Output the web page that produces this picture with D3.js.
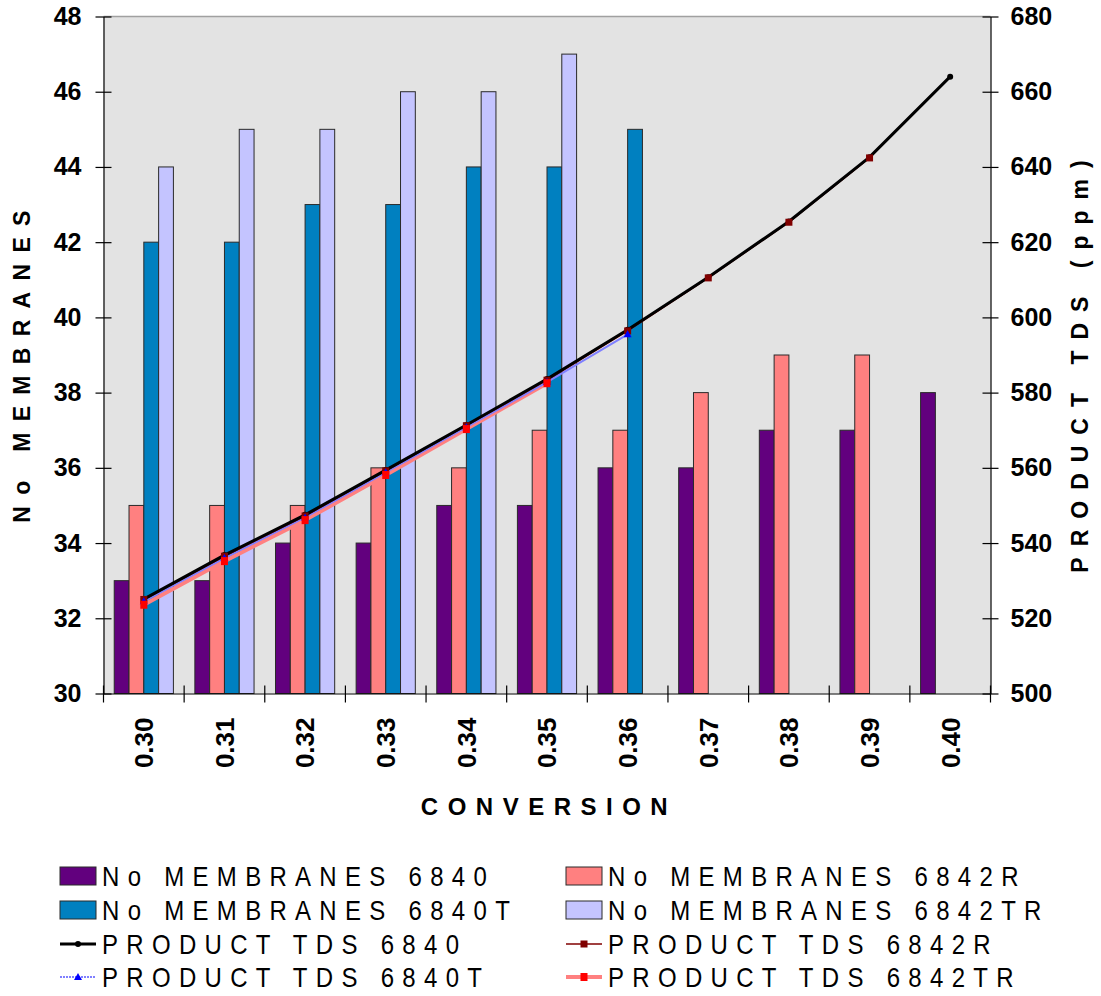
<!DOCTYPE html>
<html>
<head>
<meta charset="utf-8">
<script src="https://cdn.jsdelivr.net/npm/d3@7/dist/d3.min.js"></script>
<style>
  html, body { margin: 0; padding: 0; background: #ffffff; }
  svg { display: block; }
  text { font-family: "Liberation Sans", Arial, Helvetica, sans-serif; fill: #000; }
</style>
</head>
<body>
<svg id="chart" width="1101" height="996"></svg>
<script>
// Conversion categories along the x axis
const categories = ["0.30", "0.31", "0.32", "0.33", "0.34", "0.35", "0.36", "0.37", "0.38", "0.39", "0.40"];

// Number of membranes (left axis)
const membranes6840   = [33, 33, 34, 34, 35, 35, 36, 36, 37, 37, 38];
const membranes6842R  = [35, 35, 35, 36, 36, 37, 37, 38, 39, 39, null];
const membranes6840T  = [42, 42, 43, 43, 44, 44, 45, null, null, null, null];
const membranes6842TR = [44, 45, 45, 46, 46, 47, null, null, null, null, null];

// Product TDS in ppm (right axis)
const tds6840   = [525.1, 536.8, 547.5, 559.4, 571.4, 583.6, 596.7, 610.7, 625.5, 642.6, 664.0];
const tds6842R  = [525.0, 536.5, 547.2, 559.2, 571.2, 583.3, 596.4, 610.5, 625.3, 642.4, null];
const tds6840T  = [524.5, 536.0, 546.8, 558.8, 570.8, 582.8, 595.5, null, null, null, null];
const tds6842TR = [523.6, 535.2, 546.1, 558.1, 570.3, 582.5, null, null, null, null, null];

// Axis ticks
const leftTicks  = [30, 32, 34, 36, 38, 40, 42, 44, 46, 48];
const rightTicks = [500, 520, 540, 560, 580, 600, 620, 640, 660, 680];

const barSeries = [
  { name: "No MEMBRANES 6840",   values: membranes6840,   color: "#62007e" },
  { name: "No MEMBRANES 6842R",  values: membranes6842R,  color: "#ff8080" },
  { name: "No MEMBRANES 6840T",  values: membranes6840T,  color: "#0080c0" },
  { name: "No MEMBRANES 6842TR", values: membranes6842TR, color: "#c4c4ff" }
];

const lineSeries = [
  { name: "PRODUCT TDS 6840",   values: tds6840,   color: "#000000", width: 3,   marker: "circle",   mcolor: "#000000" },
  { name: "PRODUCT TDS 6842R",  values: tds6842R,  color: "#800000", width: 1.5, marker: "square",   mcolor: "#800000" },
  { name: "PRODUCT TDS 6840T",  values: tds6840T,  color: "#8080ff", width: 2,   marker: "triangle", mcolor: "#0000ff" },
  { name: "PRODUCT TDS 6842TR", values: tds6842TR, color: "#ff8080", width: 4,   marker: "rect",     mcolor: "#ff0000" }
];

const svg = d3.select("#chart");

const plot = { left: 103.5, right: 990.5, top: 16.5, bottom: 693.5 };

const x = d3.scaleBand().domain(categories).range([plot.left, plot.right]).paddingInner(0).paddingOuter(0);
const bw = x.bandwidth();
const groupW = bw * 4 / 5.45;
const xs = d3.scaleBand().domain(barSeries.map(s => s.name))
  .range([(bw - groupW) / 2, (bw + groupW) / 2]);

const yL = d3.scaleLinear().domain([30, 48]).range([plot.bottom, plot.top]);
const yR = d3.scaleLinear().domain([500, 680]).range([plot.bottom, plot.top]);

// Plot background
svg.append("rect")
  .attr("x", plot.left).attr("y", plot.top)
  .attr("width", plot.right - plot.left).attr("height", plot.bottom - plot.top)
  .attr("fill", "#e3e3e3");
svg.append("line")
  .attr("x1", plot.left).attr("x2", plot.right)
  .attr("y1", plot.top).attr("y2", plot.top)
  .attr("stroke", "#a0a0a0").attr("stroke-width", 1.5);

// Bars
const barG = svg.append("g");
barSeries.forEach(s => {
  barG.append("g").selectAll("rect")
    .data(categories.map((c, i) => ({ c, v: s.values[i] })).filter(d => d.v != null))
    .join("rect")
    .attr("x", d => x(d.c) + xs(s.name))
    .attr("width", xs.bandwidth())
    .attr("y", d => yL(d.v))
    .attr("height", d => yL(30) - yL(d.v))
    .attr("fill", s.color)
    .attr("stroke", "#2a2a2a")
    .attr("stroke-width", 1);
});

// Lines
const cx = c => x(c) + bw / 2;
const lineGen = d3.line()
  .defined(d => d.v != null)
  .x(d => cx(d.c))
  .y(d => yR(d.v));

const drawOrder = [3, 2, 1, 0];
drawOrder.forEach(k => {
  const s = lineSeries[k];
  svg.append("path")
    .datum(categories.map((c, i) => ({ c, v: s.values[i] })))
    .attr("d", lineGen)
    .attr("fill", "none")
    .attr("stroke", s.color)
    .attr("stroke-width", s.width)
    .attr("stroke-linejoin", "round");
});

function drawMarker(g, type, px, py, color) {
  if (type === "circle") {
    g.append("circle").attr("cx", px).attr("cy", py).attr("r", 3).attr("fill", color);
  } else if (type === "square") {
    g.append("rect").attr("x", px - 3.5).attr("y", py - 3.5).attr("width", 7).attr("height", 7).attr("fill", color);
  } else if (type === "triangle") {
    g.append("path").attr("d", `M${px},${py - 4}L${px + 4},${py + 3}L${px - 4},${py + 3}Z`).attr("fill", color);
  } else if (type === "rect") {
    g.append("rect").attr("x", px - 3.5).attr("y", py - 4).attr("width", 7).attr("height", 8).attr("fill", color);
  }
}

const markerG = svg.append("g");
[0, 1, 2, 3].forEach(k => {
  const s = lineSeries[k];
  categories.forEach((c, i) => {
    if (s.values[i] != null) drawMarker(markerG, s.marker, cx(c), yR(s.values[i]), s.mcolor);
  });
});

// Left axis
const axL = svg.append("g")
  .attr("transform", `translate(${plot.left},0)`)
  .call(d3.axisLeft(yL).tickValues(leftTicks).tickSize(8).tickPadding(14).tickSizeOuter(0));
axL.select(".domain").attr("stroke", "#000").attr("stroke-width", 1.2);
axL.selectAll(".tick line").attr("x1", 8).attr("stroke", "#000").attr("stroke-width", 1.2);
axL.selectAll(".tick text").style("font-size", "25px").style("font-weight", "bold");

// Right axis
const axR = svg.append("g")
  .attr("transform", `translate(${plot.right},0)`)
  .call(d3.axisRight(yR).tickValues(rightTicks).tickSize(8).tickPadding(12).tickSizeOuter(0));
axR.select(".domain").attr("stroke", "#000").attr("stroke-width", 1.2);
axR.selectAll(".tick line").attr("x1", -8).attr("stroke", "#000").attr("stroke-width", 1.2);
axR.selectAll(".tick text").style("font-size", "25px").style("font-weight", "bold");

// Bottom axis: labels at category centres, ticks at category boundaries
const axB = svg.append("g")
  .attr("transform", `translate(0,${plot.bottom})`)
  .call(d3.axisBottom(x).tickSize(0).tickSizeOuter(0));
axB.select(".domain").attr("stroke", "#000").attr("stroke-width", 1.2);
axB.selectAll(".tick text")
  .attr("transform", "rotate(-90)")
  .attr("x", -24).attr("y", 0).attr("dy", "0.36em")
  .style("text-anchor", "end")
  .style("font-size", "26px").style("font-weight", "bold");
axB.selectAll(".boundary")
  .data(categories.map(c => x(c)).concat([plot.right]))
  .join("line")
  .attr("class", "boundary")
  .attr("x1", d => d).attr("x2", d => d)
  .attr("y1", -8).attr("y2", 9)
  .attr("stroke", "#000").attr("stroke-width", 1.2);

// Axis titles
svg.append("text")
  .attr("transform", `translate(30,${(plot.top + plot.bottom) / 2 + 6}) rotate(-90)`)
  .attr("text-anchor", "middle")
  .style("font-size", "23px").style("font-weight", "bold").style("letter-spacing", "11.3px")
  .text("No MEMBRANES");

svg.append("text")
  .attr("transform", `translate(1088,${(plot.top + plot.bottom) / 2 + 6}) rotate(-90)`)
  .attr("text-anchor", "middle")
  .style("font-size", "23px").style("font-weight", "bold").style("letter-spacing", "11px")
  .text("PRODUCT TDS (ppm)");

svg.append("text")
  .attr("x", 549).attr("y", 815)
  .attr("text-anchor", "middle")
  .style("font-size", "24px").style("font-weight", "bold").style("letter-spacing", "9.5px")
  .text("CONVERSION");

// Legend
const legendItems = [
  { kind: "bar",  s: barSeries[0],  col: 0, row: 0 },
  { kind: "bar",  s: barSeries[1],  col: 1, row: 0 },
  { kind: "bar",  s: barSeries[2],  col: 0, row: 1 },
  { kind: "bar",  s: barSeries[3],  col: 1, row: 1 },
  { kind: "line", s: lineSeries[0], col: 0, row: 2 },
  { kind: "line", s: lineSeries[1], col: 1, row: 2 },
  { kind: "line", s: lineSeries[2], col: 0, row: 3 },
  { kind: "line", s: lineSeries[3], col: 1, row: 3 }
];
const legCols = [60, 566];
const legRows = [876, 910, 944, 977];
const legG = svg.append("g");
legendItems.forEach(it => {
  const lx = legCols[it.col], ly = legRows[it.row];
  if (it.kind === "bar") {
    legG.append("rect")
      .attr("x", lx).attr("y", ly - 9).attr("width", 36).attr("height", 18)
      .attr("fill", it.s.color).attr("stroke", "#2a2a2a").attr("stroke-width", 1);
  } else {
    legG.append("line")
      .attr("x1", lx).attr("x2", lx + 36).attr("y1", ly).attr("y2", ly)
      .attr("stroke", it.s.color).attr("stroke-width", it.s.width)
      .attr("stroke-dasharray", it.s.marker === "triangle" ? "2,1" : null);
    drawMarker(legG, it.s.marker, lx + 18, ly, it.s.mcolor);
  }
  // legend labels use a slightly tall, condensed letterform
  legG.append("text")
    .attr("transform", `translate(${lx + 42},${ly}) scale(1,1.15)`)
    .attr("dy", "0.36em")
    .style("font-size", "24px").style("letter-spacing", "8.3px")
    .text(it.s.name);
});
</script>
</body>
</html>
